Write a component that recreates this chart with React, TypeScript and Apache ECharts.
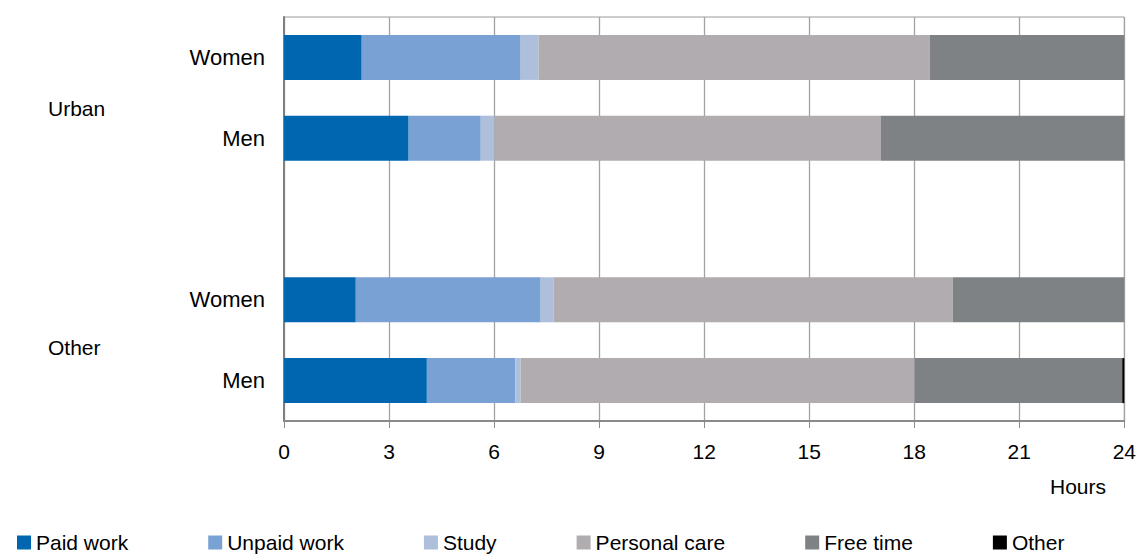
import React, { useEffect, useRef } from "react";
import * as echarts from "echarts";

// Categories, bottom to top (the empty one is the gap between groups)
const categories = ["Other|Men", "Other|Women", "|", "Urban|Men", "Urban|Women"];
const groupLabels = ["Urban", "Other"];
const seriesNames = ["Paid work", "Unpaid work", "Study", "Personal care", "Free time", "Other"];
const colors = ["#0066b0", "#79a1d3", "#adbfdb", "#b0acaf", "#7f8285", "#000000"];

// Hours per day, same order as categories
const paidWork = [4.08, 2.05, null, 3.56, 2.22];
const unpaidWork = [2.53, 5.28, null, 2.06, 4.54];
const study = [0.15, 0.37, null, 0.39, 0.51];
const personalCare = [11.25, 11.4, null, 11.04, 11.17];
const freeTime = [5.93, 4.9, null, 6.95, 5.56];
const other = [0.06, 0, null, 0, 0];

const xTicks = { min: 0, max: 24, interval: 3 };
const axisName = "Hours";

const FONT = "'Liberation Sans', Arial, sans-serif";

export default function App() {
  const ref = useRef<HTMLDivElement>(null);
  useEffect(() => {
    if (!ref.current) return;
    const chart = echarts.init(ref.current, undefined, { renderer: "svg" });
    const values = [paidWork, unpaidWork, study, personalCare, freeTime, other];
    chart.setOption({
      animation: false,
      textStyle: { fontFamily: FONT },
      grid: {
        left: 284,
        right: 12,
        top: 17,
        bottom: 134,
        show: true,
        borderColor: "#9a9a9a",
        borderWidth: 1,
      },
      legend: {
        left: 12,
        top: 527,
        itemWidth: 14,
        itemHeight: 14,
        itemGap: 80,
        icon: "rect",
        textStyle: { fontSize: 21, color: "#000", fontFamily: FONT },
        data: seriesNames,
      },
      xAxis: {
        type: "value",
        min: xTicks.min,
        max: xTicks.max,
        interval: xTicks.interval,
        axisLine: { show: true, lineStyle: { color: "#8a8a8a", width: 2 } },
        axisTick: { show: true, length: 7, lineStyle: { color: "#8a8a8a", width: 1 } },
        axisLabel: { fontSize: 21, color: "#000", margin: 20, fontFamily: FONT },
        splitLine: { show: true, lineStyle: { color: "#a3a3a3", width: 1.3 } },
      },
      yAxis: {
        type: "category",
        data: categories,
        axisLine: { show: true, lineStyle: { color: "#7f7f7f", width: 2 } },
        axisTick: { show: false },
        splitLine: { show: false },
        axisLabel: {
          fontSize: 22,
          color: "#000",
          margin: 19,
          fontFamily: FONT,
          formatter: (v: string) => v.split("|")[1] || "",
        },
      },
      graphic: [
        {
          type: "text",
          left: 48,
          top: 98,
          style: { text: groupLabels[0], fontSize: 21, fill: "#000", fontFamily: FONT },
        },
        {
          type: "text",
          left: 48,
          top: 337,
          style: { text: groupLabels[1], fontSize: 21, fill: "#000", fontFamily: FONT },
        },
        {
          type: "text",
          left: 1050,
          top: 476,
          style: { text: axisName, fontSize: 21, fill: "#000", fontFamily: FONT },
        },
      ],
      series: seriesNames.map((name, i) => ({
        name,
        type: "bar",
        stack: "total",
        barWidth: 45,
        itemStyle: { color: colors[i] },
        data: values[i],
      })),
    });
    return () => chart.dispose();
  }, []);
  return (
    <div
      ref={ref}
      style={{ position: "absolute", left: 0, top: 0, width: 1139, height: 555 }}
    />
  );
}
